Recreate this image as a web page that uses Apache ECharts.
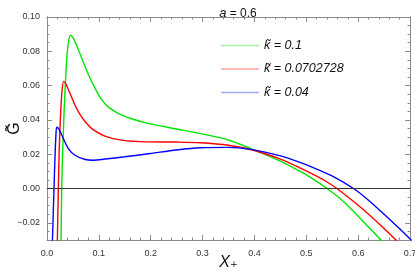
<!DOCTYPE html>
<html>
<head>
<meta charset="utf-8">
<script src="https://cdn.jsdelivr.net/npm/echarts@6/dist/echarts.min.js"></script>
<style>html,body{margin:0;padding:0;background:#fff;}#c{width:415px;height:274px;}</style>
</head>
<body>
<div id="c"></div>
<script>
// Series names
const names = ['k\u0303 = 0.1', 'k\u0303 = 0.0702728', 'k\u0303 = 0.04'];
// k = 0.1 (green)
const gx = [0.0262, 0.0270, 0.0284, 0.0300, 0.0330, 0.0368, 0.0400, 0.0451, 0.0500, 0.0570, 0.0663, 0.0793, 0.0986, 0.108, 0.118, 0.137, 0.163, 0.195, 0.25, 0.296, 0.35, 0.40, 0.45, 0.489, 0.515, 0.540, 0.565, 0.586, 0.618, 0.647, 0.66];
const gy = [-0.040, -0.030, 0.0, 0.020, 0.045, 0.0694, 0.082, 0.0894, 0.0880, 0.0835, 0.0765, 0.0668, 0.0550, 0.0508, 0.0476, 0.0438, 0.0407, 0.0380, 0.0347, 0.0320, 0.0283, 0.0224, 0.0160, 0.0098, 0.0052, 0.0, -0.0058, -0.0118, -0.0218, -0.0310, -0.0350];
// k = 0.0702728 (red)
const rx = [0.0195, 0.0200, 0.0219, 0.0235, 0.0260, 0.0290, 0.0322, 0.0360, 0.0400, 0.0470, 0.0550, 0.0660, 0.0750, 0.0857, 0.1115, 0.144, 0.195, 0.25, 0.296, 0.35, 0.40, 0.45, 0.489, 0.520, 0.540, 0.559, 0.590, 0.618, 0.650, 0.675, 0.69];
const ry = [-0.040, -0.030, 0.0, 0.022, 0.042, 0.057, 0.0625, 0.0612, 0.0585, 0.0537, 0.0480, 0.0420, 0.0385, 0.0351, 0.0306, 0.0282, 0.0272, 0.0271, 0.0267, 0.0252, 0.0222, 0.0172, 0.0119, 0.0072, 0.0038, 0.0, -0.0073, -0.0144, -0.0233, -0.0306, -0.0352];
// k = 0.04 (blue)
const bx = [0.0092, 0.0105, 0.0135, 0.0155, 0.0172, 0.0188, 0.0232, 0.0284, 0.0412, 0.054, 0.0735, 0.090, 0.112, 0.15, 0.199, 0.25, 0.296, 0.35, 0.393, 0.45, 0.489, 0.520, 0.554, 0.591, 0.620, 0.650, 0.680, 0.702, 0.71];
const by = [-0.040, -0.030, 0.0, 0.019, 0.031, 0.0357, 0.0345, 0.0312, 0.0233, 0.0194, 0.0169, 0.0165, 0.0172, 0.0185, 0.0204, 0.0225, 0.0238, 0.0240, 0.0228, 0.0190, 0.0151, 0.0113, 0.0066, 0.0, -0.0068, -0.0150, -0.0235, -0.0300, -0.0325];
// Tick values
const yLabels = [-0.02, 0, 0.02, 0.04, 0.06, 0.08, 0.10];
const yMinor = [];
for (let i = -6; i <= 20; i++) yMinor.push(+(i * 0.005).toFixed(3));

const zip = (xs, ys) => xs.map((x, i) => [x, ys[i]]);
const colors = ['#00e600', '#ff0000', '#0000ff'];
const legendColors = ['#a6f2a6', '#ffa6a6', '#a6a6ff'];
const frame = '#8a8a8a';
const font = 'Liberation Sans, Arial, sans-serif';

function xAx(pos, labels) {
  return {
    type: 'value', position: pos, min: 0, max: 0.7, interval: 0.1,
    axisLine: { show: true, onZero: false, lineStyle: { color: frame, width: 1 } },
    axisTick: { show: true, inside: true, length: 5, lineStyle: { color: frame } },
    minorTick: { show: true, splitNumber: 5, length: 2.5, lineStyle: { color: frame } },
    axisLabel: { show: labels, fontSize: 9, color: '#333', fontFamily: font, margin: 9,
      formatter: v => v.toFixed(1) },
    splitLine: { show: false }, minorSplitLine: { show: false },
    name: labels ? '{i|X}{s|\u208A}' : '', nameLocation: 'middle', nameGap: 15,
    nameMoveOverlap: false,
    nameTextStyle: { rich: {
      i: { fontSize: 16, fontStyle: 'italic', fontFamily: font, color: '#111' },
      s: { fontSize: 15, fontFamily: 'DejaVu Sans', color: '#111' }
    } }
  };
}
function yAx(pos, labels, major) {
  return {
    type: 'value', position: pos, min: -0.03, max: 0.10,
    axisLine: { show: true, onZero: false, lineStyle: { color: frame, width: 1 } },
    axisTick: { show: true, inside: true, length: major ? 5 : 2.5, lineStyle: { color: frame },
      customValues: major ? yLabels : yMinor },
    axisLabel: { show: labels, fontSize: 9, color: '#333', fontFamily: font, margin: 7,
      customValues: yLabels,
      formatter: v => (v < 0 ? '\u22120' : '') + (v < 0 ? Math.abs(v).toFixed(2).slice(1) : v.toFixed(2)) },
    splitLine: { show: false },
    name: labels ? 'G\u0303' : '', nameLocation: 'middle', nameGap: 24, nameRotate: 90,
    nameMoveOverlap: false,
    nameTextStyle: { fontSize: 16, fontFamily: font, color: '#111' }
  };
}

const chart = echarts.init(document.getElementById('c'), null, { renderer: 'canvas' });
chart.setOption({
  animation: false,
  backgroundColor: '#fff',
  title: {
    text: '{i|a} = 0.6', left: 233, top: 2, textAlign: 'center',
    textStyle: { fontSize: 12, fontWeight: 'normal', color: '#111', fontFamily: font,
      rich: { i: { fontSize: 13, fontStyle: 'italic', color: '#111', fontFamily: font } } }
  },
  grid: { left: 47, right: 5, top: 17, bottom: 34, containLabel: false, outerBoundsMode: 'none' },
  legend: {
    orient: 'vertical', left: 216, top: 34, itemWidth: 38, itemHeight: 1.5, itemGap: 10.5,
    icon: 'rect',
    data: names.map((n, i) => ({ name: n, itemStyle: { color: legendColors[i] } })),
    textStyle: { fontSize: 12.5, fontStyle: 'italic', fontFamily: font, color: '#111' }
  },
  xAxis: [xAx('bottom', true), xAx('top', false)],
  yAxis: [yAx('left', true, true), yAx('left', false, false), yAx('right', false, true), yAx('right', false, false)],
  series: [
    { name: names[0], type: 'line', data: zip(gx, gy), smooth: 0.3, symbol: 'none', clip: true,
      lineStyle: { color: colors[0], width: 1.4 }, itemStyle: { color: colors[0] },
      markLine: { silent: true, symbol: 'none', label: { show: false },
        lineStyle: { color: '#333', width: 1, type: 'solid' }, data: [{ yAxis: 0 }] } },
    { name: names[1], type: 'line', data: zip(rx, ry), smooth: 0.3, symbol: 'none', clip: true,
      lineStyle: { color: colors[1], width: 1.4 }, itemStyle: { color: colors[1] } },
    { name: names[2], type: 'line', data: zip(bx, by), smooth: 0.3, symbol: 'none', clip: true,
      lineStyle: { color: colors[2], width: 1.4 }, itemStyle: { color: colors[2] } }
  ]
});
</script>
</body>
</html>
